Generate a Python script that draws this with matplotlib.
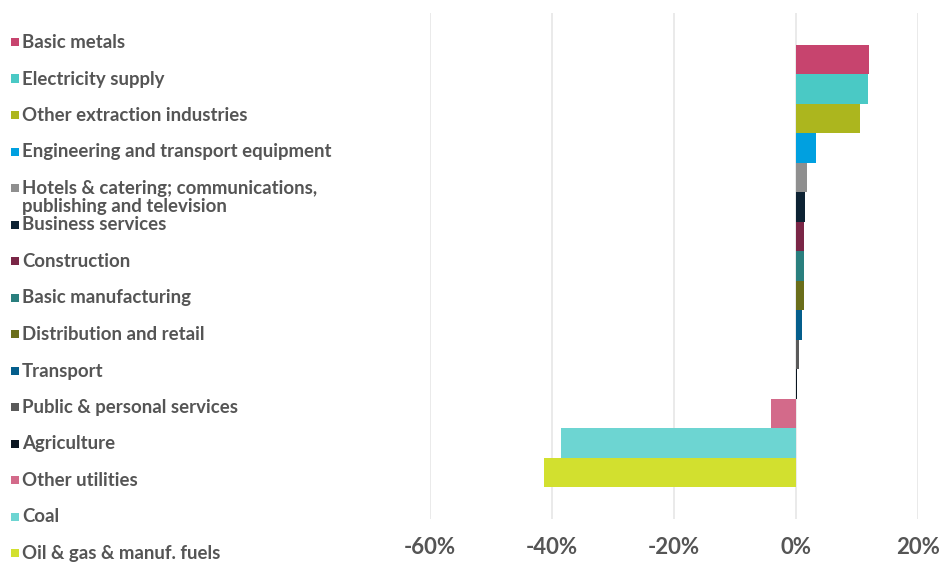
import matplotlib

matplotlib.use("Agg")
import matplotlib.pyplot as plt
from matplotlib.patches import Rectangle
from matplotlib.ticker import FuncFormatter

plt.rcParams["font.family"] = ["Lato", "DejaVu Sans"]

sectors = [
    "Basic metals",
    "Electricity supply",
    "Other extraction industries",
    "Engineering and transport equipment",
    "Hotels & catering; communications,\npublishing and television",
    "Business services",
    "Construction",
    "Basic manufacturing",
    "Distribution and retail",
    "Transport",
    "Public & personal services",
    "Agriculture",
    "Other utilities",
    "Coal",
    "Oil & gas & manuf. fuels",
]
change_pct = [12.0, 11.8, 10.5, 3.3, 1.8, 1.5, 1.3, 1.3, 1.3, 1.0, 0.5, 0.2, -4.1, -38.5, -41.3]
colors = [
    "#c7446e", "#4ac9c5", "#acb61e", "#00a0e0", "#8f8f8f",
    "#0d2233", "#7a2646", "#2a7f7e", "#6a6e1a", "#045e8c",
    "#5a5a5a", "#0a1520", "#d36a8a", "#6dd5d2", "#d2e02f",
]
xticks = [-60, -40, -20, 0, 20]

W, H = 947, 564
fig = plt.figure(figsize=(W / 100, H / 100), dpi=100)
ax = fig.add_axes([430 / W, (H - 519) / H, (918 - 430) / W, 506 / H])

for i, (v, c) in enumerate(zip(change_pct, colors)):
    ax.barh(i, v, height=1.0, color=c, linewidth=0, zorder=3)

ax.set_xlim(-60, 20)
ax.set_ylim(15.586, -1.586)
ax.set_xticks(xticks)
ax.xaxis.set_major_formatter(FuncFormatter(lambda v, _: f"{v:.0f}%"))
ax.tick_params(axis="x", length=0, pad=13, labelsize=16, labelcolor="#555555")
for lab in ax.get_xticklabels():
    lab.set_fontweight("bold")
ax.set_yticks([])
ax.grid(axis="x", color="#e6e6e6", linewidth=1.2, zorder=0)
for s in ax.spines.values():
    s.set_visible(False)

# legend drawn by hand so the two-line item keeps the same row spacing
for i, (name, c) in enumerate(zip(sectors, colors)):
    y = 42 + i * 36.5
    fig.patches.append(Rectangle((11 / W, 1 - (y + 4) / H), 8 / W, 8 / H,
                                 transform=fig.transFigure, color=c, linewidth=0))
    fig.text(22 / W, 1 - (y - 8) / H, name, fontsize=13.4, color="#555555",
             fontweight="bold", va="top", ha="left", linespacing=1.05)

fig.savefig("out.png", dpi=100)
